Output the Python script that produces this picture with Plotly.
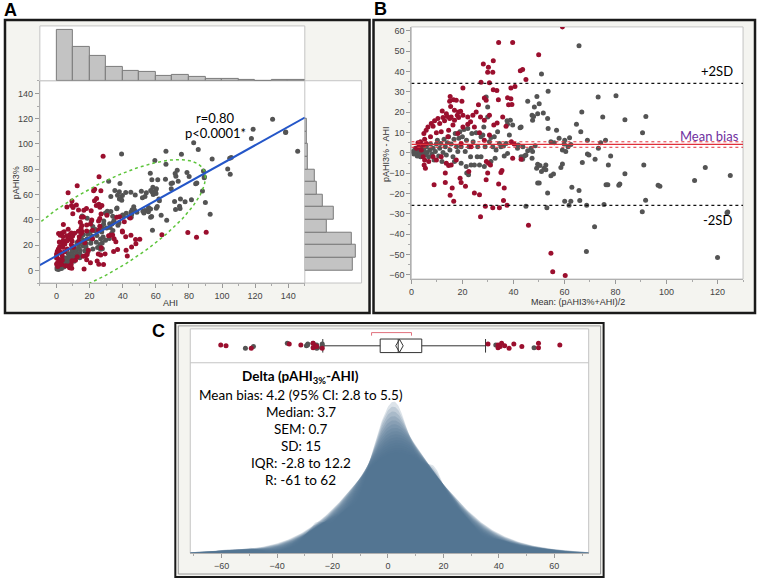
import numpy as np
import plotly.graph_objects as go

W, H = 757, 582
def px(x): return x / W
def py(y): return 1 - y / H

# ---------------- data (Bland-Altman coordinates: mean, difference) -------------
red_points = [
 (59.2,62.0),(34.2,54.3),(39.7,54.3),(49.9,48.3),(32.1,45.4),(28.2,43.7),(30.2,42.1),(29.9,39.7),(31.9,39.7),
 (43.6,41.0),(42.7,40.5),(44.9,36.1),(27.3,34.8),(30.6,34.5),(20.2,32.0),(32.1,31.1),(33.5,30.7),(39.0,32.0),
 (40.6,32.7),(15.2,27.8),(16.5,26.2),(15.0,25.4),(17.6,25.9),(19.8,25.4),(28.6,27.0),(29.3,25.9),(34.1,26.2),
 (37.7,27.2),(39.0,26.7),(38.1,23.7),(39.4,23.9),(26.3,23.7),(12.1,20.7),(13.7,19.3),(15.4,22.9),(16.9,21.0),
 (18.5,20.2),(19.3,20.5),(18.0,18.5),(15.6,17.7),(14.1,18.0),(12.4,17.4),(10.4,16.9),(9.1,15.8),(7.8,14.5),
 (6.5,12.8),(5.8,11.2),(4.9,9.6),(8.5,13.2),(11.1,14.5),(13.0,15.8),(15.0,16.9),(16.9,16.1),(18.5,17.4),
 (20.2,18.5),(22.1,17.7),(24.1,18.5),(23.2,15.3),(25.4,20.2),(27.1,17.7),(28.6,16.1),(30.6,18.5),(32.3,13.7),
 (33.6,14.8),(35.8,17.7),(37.1,13.2),(16.3,13.7),(14.6,11.2),(11.7,10.4),(9.8,9.9),(20.2,12.8),(22.1,14.1),
 (24.7,12.8),(26.7,9.9),(18.2,9.6),(7.5,8.0),(5.2,6.7),(2.6,5.0),(3.6,5.5),(4.6,3.9),(5.9,4.7),(14.3,8.0),
 (28.6,6.3),(30.6,8.8),(2.0,2.3),(2.9,3.1),(3.9,1.5),(4.6,-1.8),(5.2,-3.4),(5.0,-5.9),(5.5,-7.5),(6.8,-4.2),
 (8.5,-1.8),(9.8,-3.4),(11.7,-1.8),(13.7,-5.0),(14.6,-6.2),(15.6,-5.9),(17.6,-3.4),(8.9,-15.6),(13.3,-9.9),
 (13.3,-14.5),(15.2,-20.8),(16.0,-17.2),(16.6,-23.7),(19.1,-12.4),(19.5,-14.5),(21.2,-16.4),(22.5,-9.1),
 (24.7,-19.7),(26.7,-20.5),(29.0,-26.2),(27.1,-31.4),(29.3,-13.2),(29.9,-9.9),(30.2,-5.0),(29.4,-4.2),
 (31.0,-5.9),(31.9,-27.0),(34.5,-27.0),(34.2,-15.3),(35.1,-9.6),(35.5,-8.6),(36.4,-17.2),(36.1,-23.4),
 (37.5,-25.7),(39.2,5.5),(40.3,4.4),(39.7,-2.6),(43.0,-3.1),(45.9,-35.6),(54.7,-49.3),(55.4,-58.4),
 (60.3,-60.3),(23.4,3.1),(19.5,4.7),
]
gray_points = [
 (0.7,0.7),(1.0,-0.5),(1.3,1.5),(1.6,2.3),(2.0,-0.2),(2.3,-1.5),(2.6,0.7),(3.0,1.8),(3.3,-0.5),(3.6,-1.8),
 (4.2,0.2),(4.6,2.3),(5.0,1.1),(5.5,-1.0),(5.9,3.1),(6.2,0.2),(6.8,-1.8),(7.2,1.5),(7.5,4.4),(8.1,-0.5),
 (8.5,2.3),(8.9,-3.4),(9.4,0.7),(9.8,4.4),(10.2,6.3),(10.7,-1.5),(11.1,2.3),(11.5,4.7),(12.0,-4.2),(12.4,0.2),
 (12.8,6.7),(13.3,3.1),(13.7,-1.0),(14.1,5.0),(14.6,8.0),(15.1,1.5),(15.6,4.4),(16.3,-1.8),(16.7,6.7),
 (17.2,9.6),(17.7,3.1),(18.2,0.7),(18.6,7.2),(19.0,10.4),(19.5,3.1),(20.0,8.0),(20.6,11.5),(21.1,0.7),
 (21.6,6.3),(22.1,12.0),(22.6,3.1),(23.2,-1.8),(23.7,9.6),(24.2,5.5),(24.7,-5.9),(25.4,9.9),(26.0,3.1),
 (26.7,-5.9),(27.3,8.0),(28.0,8.8),(28.4,12.8),(29.3,27.5),(29.9,22.6),(29.9,17.7),(28.9,3.1),(30.6,5.5),
 (31.2,7.6),(31.9,3.1),(32.5,8.0),(33.2,1.5),(33.8,10.4),(34.5,4.7),(35.1,3.1),(36.1,3.4),(37.1,4.7),
 (37.5,15.8),(37.7,14.1),(38.4,8.8),(38.8,16.1),(39.7,13.7),(41.6,2.3),(41.9,3.9),(42.6,12.4),(43.0,12.8),
 (43.7,3.1),(44.3,-1.5),(44.9,-1.0),(45.6,1.1),(45.6,25.5),(46.9,2.3),(47.3,-2.6),(47.5,0.7),(48.5,3.6),
 (47.3,18.5),(47.9,18.0),(47.5,16.1),(48.2,22.6),(49.2,27.8),(49.5,19.3),(50.1,24.2),(51.0,38.9),(51.7,19.7),
 (53.4,16.9),(53.6,12.0),(53.6,30.4),(54.7,5.5),(56.0,5.0),(56.9,11.2),(57.9,7.2),(59.2,1.5),(59.9,4.4),
 (60.1,6.3),(60.5,0.7),(61.4,3.1),(62.0,7.5),(62.5,4.2),(64.7,14.1),(65.7,52.7),(66.4,10.4),(66.8,20.2),
 (69.0,6.3),(69.0,-0.5),(69.6,-1.0),(73.2,27.5),(73.3,2.3),(74.2,5.0),(75.0,17.7),(76.1,6.3),(78.1,-1.5),
 (80.2,28.1),(83.7,16.4),(90.6,9.9),(91.9,18.0),(49.1,-7.5),(49.5,-5.5),(50.4,-6.2),(51.0,-9.1),(52.0,-7.5),
 (52.7,-5.9),(52.7,-8.3),(49.5,-14.8),(50.1,-14.8),(54.7,-11.2),(55.7,-10.4),(58.6,-7.2),(59.2,-5.4),
 (53.4,-19.7),(53.1,-27.0),(44.9,-26.2),(62.9,-16.9),(65.7,-18.4),(62.5,-23.7),(61.8,-25.7),(60.1,-23.7),
 (66.0,-23.4),(68.7,-25.7),(67.0,-4.7),(72.0,-3.1),(77.2,-5.9),(75.5,-25.4),(76.3,-15.6),(77.0,-15.6),
 (71.8,-36.3),(68.6,-48.5),(81.3,-15.9),(81.7,-15.3),(83.7,-10.2),(91.1,-5.9),(91.8,-23.3),(90.5,-28.9),
 (96.7,-15.9),(97.4,-16.4),(111.0,-13.5),(115.2,-7.2),(120.0,-51.4),(123.7,-29.4),(124.0,-29.0),(125.0,-11.1),
 (21.7,-9.9),(22.4,-10.7),(23.4,-5.9),(25.8,-1.8),(27.3,-1.8),(21.5,-6.7),(19.5,-5.0),(16.9,-4.2),(31.2,-4.2),
 (32.8,-2.6),(36.4,-1.5),(37.7,-0.2),(43.0,-1.8),(43.6,-3.1),(28.6,-6.7),
]

# marginal histogram counts (10-unit bins)
ahi_bin_starts = list(range(0, 150, 10))
ahi_counts = [51, 34, 25, 14, 10, 9, 5, 6, 4, 2, 2, 1, 0, 1, 0.5]
pahi_bin_starts = list(range(0, 120, 10))
pahi_counts = [48, 51.3, 47.3, 22.3, 29, 18.3, 11.6, 9.6, 3.3, 2.6, 2.3, 1.6]

# panel A fit and density ellipse
fit_intercept, fit_slope = 11.5, 0.729
ell_center = (26, 31)
ell_halfx, ell_halfy, ell_r = 64, 56.6, 0.75

# Bland-Altman limits
mean_bias, ci_low, ci_high = 4.2, 2.8, 5.5
upper_loa, lower_loa = 34.2, -25.8

# panel C box summary
q1, median, q3 = -2.8, 3.7, 12.2
whisker_lo, whisker_hi = -23.5, 35.2
short_lo, short_hi = -5.9, 8.5
c_title = "<b>Delta (pAHI<sub>3%</sub>-AHI)</b>"
c_lines = ["Mean bias: 4.2 (95% CI: 2.8 to 5.5)", "Median: 3.7", "SEM: 0.7", "SD: 15",
           "IQR: -2.8 to 12.2", "R: -61 to 62"]

RED = "#9b0f2e"
GRAY = "#545454"
TICKF = dict(family="Liberation Sans, Arial", size=9, color="#444")

rm = np.array([p[0] for p in red_points]); rd = np.array([p[1] for p in red_points])
gm = np.array([p[0] for p in gray_points]); gd = np.array([p[1] for p in gray_points])

fig = go.Figure()

# ---- Panel A scatter (AHI, pAHI3%) derived from mean/diff
for m, d, col in [(gm, gd, GRAY), (rm, rd, RED)]:
    fig.add_trace(go.Scatter(x=m - d / 2, y=m + d / 2, mode="markers", xaxis="x", yaxis="y",
                             marker=dict(color=col, size=5), showlegend=False))
t = np.linspace(0, 2 * np.pi, 300)
ex = ell_center[0] + ell_halfx * np.cos(t)
ey = ell_center[1] + ell_halfy * (ell_r * np.cos(t) + np.sqrt(1 - ell_r ** 2) * np.sin(t))
fig.add_trace(go.Scatter(x=ex, y=ey, mode="lines", xaxis="x", yaxis="y",
                         line=dict(color="#5cc43a", width=1.5, dash="dot"), showlegend=False))
fx = np.array([-10, 150])
fig.add_trace(go.Scatter(x=fx, y=fit_intercept + fit_slope * fx, mode="lines", xaxis="x", yaxis="y",
                         line=dict(color="#2456c8", width=2), showlegend=False))
fig.add_trace(go.Bar(x=[b + 5 for b in ahi_bin_starts], y=ahi_counts, width=10, xaxis="x2", yaxis="y2",
                     marker=dict(color="#c3c3c3", line=dict(color="#7a7a7a", width=1)), showlegend=False))
fig.add_trace(go.Bar(y=[b + 5 for b in pahi_bin_starts], x=pahi_counts, width=10, orientation="h",
                     xaxis="x3", yaxis="y3",
                     marker=dict(color="#c3c3c3", line=dict(color="#7a7a7a", width=1)), showlegend=False))

# ---- Panel B
for m, d, col in [(gm, gd, GRAY), (rm, rd, RED)]:
    fig.add_trace(go.Scatter(x=m, y=d, mode="markers", xaxis="x4", yaxis="y4",
                             marker=dict(color=col, size=5), showlegend=False))

# ---- Panel C density (shadowgram-like stack of kernel densities)
alld = np.concatenate([rd, gd])
xs = np.linspace(-71.3, 72.4, 500)
bws = np.linspace(3.2, 12.0, 16)
dens_max = 0
for bw in bws:
    dens = np.exp(-0.5 * ((xs[:, None] - alld[None, :]) / bw) ** 2).sum(1) / (len(alld) * bw * np.sqrt(2 * np.pi))
    dens_max = max(dens_max, dens.max())
    fig.add_trace(go.Scatter(x=xs, y=dens, mode="lines", fill="tozeroy", xaxis="x6", yaxis="y6",
                             line=dict(width=0), fillcolor="rgba(78,116,146,0.2)", showlegend=False,
                             hoverinfo="skip"))

# ---- Panel C box strip
fig.add_trace(go.Box(q1=[q1], median=[median], q3=[q3], lowerfence=[whisker_lo], upperfence=[whisker_hi],
                     y=[0], orientation="h", xaxis="x5", yaxis="y5", width=0.8, whiskerwidth=1,
                     fillcolor="white", line=dict(color="#333", width=1), boxpoints=False, showlegend=False))
fig.add_trace(go.Scatter(x=[ci_low, mean_bias, ci_high, mean_bias, ci_low], y=[0, 0.38, 0, -0.38, 0],
                         mode="lines", xaxis="x5", yaxis="y5", line=dict(color="#333", width=1), showlegend=False))
fig.add_trace(go.Scatter(x=[short_lo, short_lo, short_hi, short_hi], y=[0.6, 0.78, 0.78, 0.6], mode="lines",
                         xaxis="x5", yaxis="y5", line=dict(color="#e0707c", width=1), showlegend=False))
jit = [0.05, -0.12, 0.15, -0.04, 0.1, -0.15, 0.0]
for d_arr, col in [(gd, GRAY), (rd, RED)]:
    out = [v for v in d_arr if v < whisker_lo or v > whisker_hi]
    fig.add_trace(go.Scatter(x=out, y=[jit[i % len(jit)] for i in range(len(out))], mode="markers",
                             xaxis="x5", yaxis="y5", marker=dict(color=col, size=5), showlegend=False))

# ---------------- layout ----------------
def ax(**kw):
    base = dict(showgrid=False, zeroline=False, ticks="outside", ticklen=4, tickcolor="#999",
                tickfont=TICKF, showline=True, linecolor="#b0b0b0", linewidth=1)
    base.update(kw)
    return base

MINOR = lambda dt: dict(dtick=dt, tick0=0, ticks="outside", ticklen=2, tickcolor="#aaa")
hidden = dict(visible=False, showgrid=False, zeroline=False)
layout = dict(
    width=W, height=H, margin=dict(l=0, r=0, t=0, b=0),
    paper_bgcolor="white", plot_bgcolor="rgba(0,0,0,0)", bargap=0,
    xaxis=ax(domain=[px(37), px(303)], range=[-10, 150], tickvals=list(range(0, 150, 20)), minor=MINOR(10), anchor="y"),
    yaxis=ax(domain=[py(283), py(80)], range=[-10, 150], tickvals=list(range(0, 150, 20)), minor=MINOR(10), anchor="x"),
    xaxis2=dict(hidden, domain=[px(37), px(303)], range=[-10, 150], anchor="y2"),
    yaxis2=dict(hidden, domain=[py(80), py(25)], range=[0, 55], anchor="x2"),
    xaxis3=dict(hidden, domain=[px(303), px(360)], range=[0, 57], anchor="y3"),
    yaxis3=dict(hidden, domain=[py(283), py(80)], range=[-10, 150], anchor="x3"),
    xaxis4=ax(domain=[px(410), px(743)], range=[0, 130], tickvals=list(range(0, 130, 20)), minor=MINOR(10), anchor="y4"),
    yaxis4=ax(domain=[py(279), py(26)], range=[-62, 62], tickvals=list(range(-60, 70, 10)), minor=MINOR(5), anchor="x4"),
    xaxis5=dict(hidden, domain=[px(188), px(588)], range=[-71.3, 72.4], anchor="y5"),
    yaxis5=dict(hidden, domain=[py(363), py(329)], range=[-1, 1], anchor="x5"),
    xaxis6=ax(domain=[px(188), px(588)], range=[-71.3, 72.4], tickvals=list(range(-60, 70, 20)), minor=MINOR(10), anchor="y6"),
    yaxis6=dict(hidden, domain=[py(554), py(363)], range=[0, dens_max / 0.796], anchor="x6"),
)

def rect(x0, y0, x1, y1, fill=None, color="#c4c4c4", width=1, layer="below"):
    return dict(type="rect", xref="paper", yref="paper", x0=px(x0), x1=px(x1), y0=py(y1), y1=py(y0),
                fillcolor=fill if fill else "rgba(0,0,0,0)", line=dict(color=color, width=width), layer=layer)

FRAME = "#f4f4f0"
shapes = [
    rect(2, 19, 368, 313, fill=FRAME, color="#1a1a1a", width=2.5),
    rect(372, 19, 755, 313, fill=FRAME, color="#1a1a1a", width=2.5),
    rect(173, 323, 603, 578, fill=FRAME, color="#1a1a1a", width=2),
    rect(176, 326, 600, 575, color="#9a9a9a", width=1),
    rect(37, 80, 360, 283, fill="white"),
    rect(37, 25, 303, 80, fill="white"),
    rect(410, 26, 743, 279, fill="white"),
    rect(188, 329, 588, 554, fill="white"),
    dict(type="line", xref="paper", yref="paper", x0=px(303), x1=px(303), y0=py(283), y1=py(80),
         line=dict(color="#c4c4c4", width=1), layer="below"),
    dict(type="line", xref="paper", yref="paper", x0=px(188), x1=px(588), y0=py(363), y1=py(363),
         line=dict(color="#c4c4c4", width=1), layer="below"),
]
for yv, col, dash, wdt in [(upper_loa, "#111", "dot", 1.3), (lower_loa, "#111", "dot", 1.3),
                           (ci_high, "#e0303a", "dot", 1), (ci_low, "#e0303a", "dot", 1),
                           (mean_bias, "#e0303a", "solid", 1.2)]:
    shapes.append(dict(type="line", xref="x4", yref="y4", x0=0, x1=130, y0=yv, y1=yv,
                       line=dict(color=col, dash=dash, width=wdt), layer="above"))
layout["shapes"] = shapes

def ann(x, y, text, size=12, color="black", family="Lato", angle=0, xanchor="center"):
    return dict(xref="paper", yref="paper", x=px(x), y=py(y), text=text, showarrow=False,
                font=dict(family=family, size=size, color=color), textangle=angle,
                xanchor=xanchor, yanchor="middle")

LAB = "Liberation Sans, Arial"
anns = [
    ann(8, 9, "<b>A</b>", size=18, family=LAB),
    ann(379, 8, "<b>B</b>", size=18, family=LAB),
    ann(156, 331, "<b>C</b>", size=18, family=LAB),
    ann(213, 117, "r=0.80", size=13),
    ann(213, 132, "p<0.0001*", size=13),
    ann(13, 182, "pAHI3%", size=9, family=LAB, angle=-90, color="#333"),
    ann(168, 303, "AHI", size=9, family=LAB, color="#333"),
    ann(385, 153, "pAHI3% - AHI", size=9, family=LAB, angle=-90, color="#333"),
    ann(577, 302, "Mean: (pAHI3%+AHI)/2", size=9, family=LAB, color="#333"),
    ann(717, 70, "+2SD", size=13),
    ann(717, 220, "-2SD", size=13),
    ann(709, 135, "Mean bias", size=13, color="#7030a0"),
    ann(299, 377, c_title, size=13.5),
]
for i, line in enumerate(c_lines):
    anns.append(ann(299, 395 + i * 17.2, line, size=13.5))
layout["annotations"] = anns

fig.update_layout(**layout)
fig.write_html("out.html", config={"displayModeBar": False},
               post_script="document.body.style.margin='0';document.body.style.padding='0';")
